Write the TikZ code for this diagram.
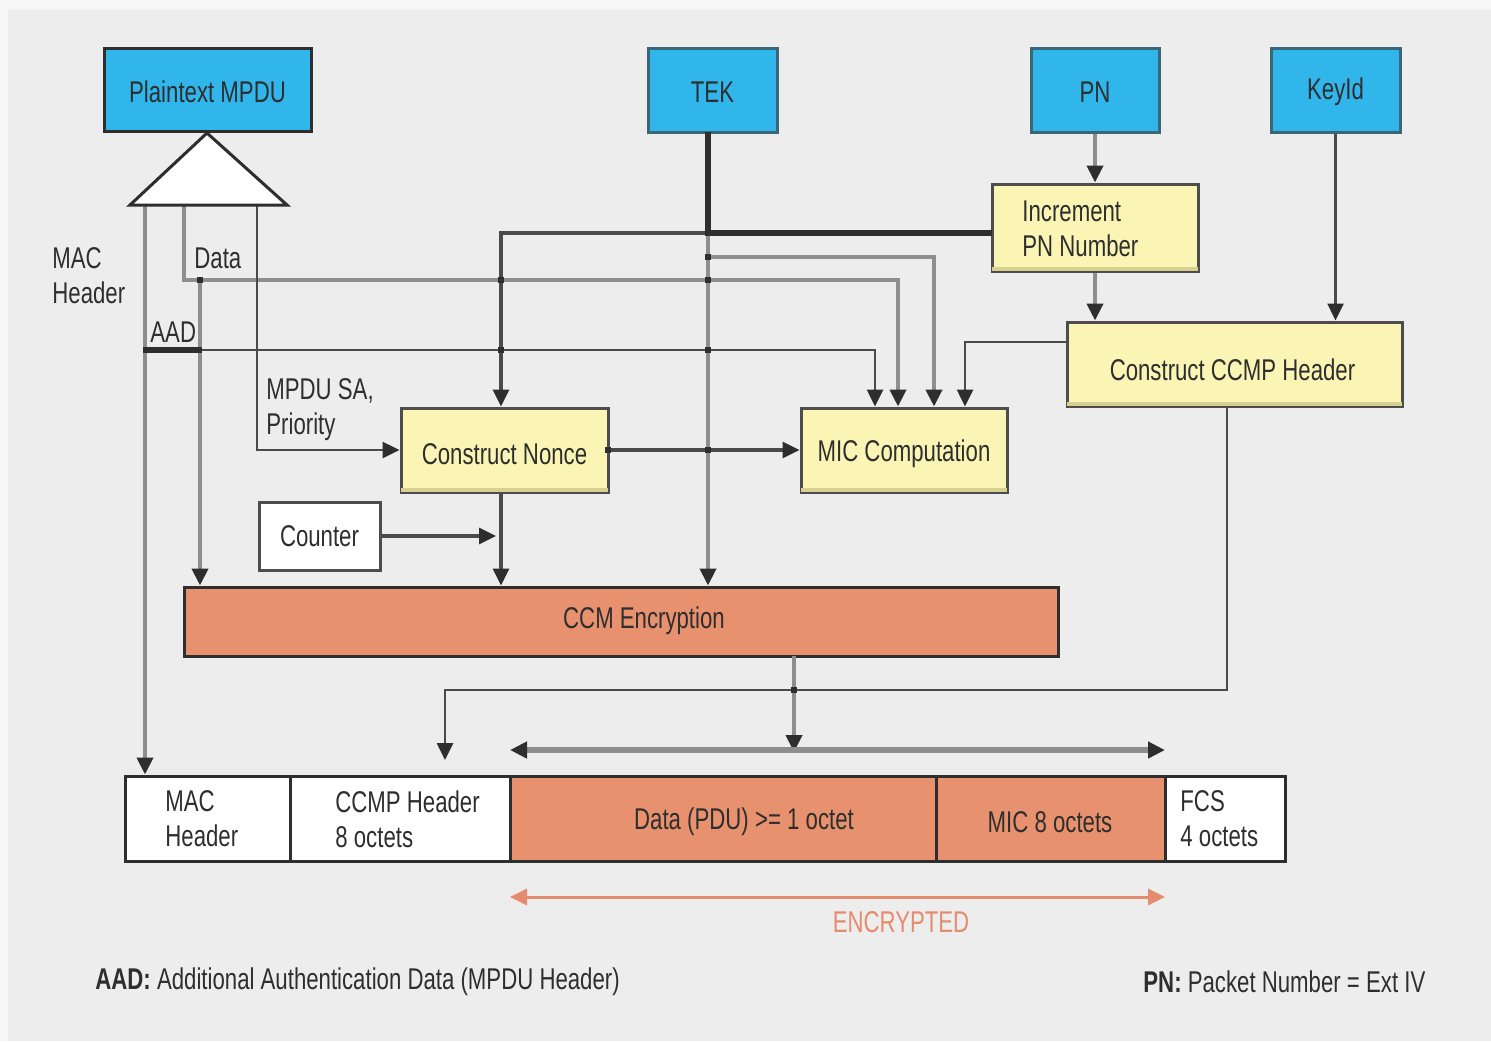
\documentclass[tikz,border=0pt]{standalone}
\usepackage{fontspec}
\setmainfont{Liberation Sans}[FakeStretch=0.74]
\usetikzlibrary{arrows.meta,fit}

\definecolor{page}{HTML}{F6F6F6}
\definecolor{panel}{HTML}{ECEDEC}
\definecolor{skyfill}{HTML}{31B6EC}
\definecolor{skyedge}{HTML}{3C6577}
\definecolor{padfill}{HTML}{FAF5B5}
\definecolor{padshade}{HTML}{D8D08E}
\definecolor{salmon}{HTML}{E8916F}
\definecolor{ink}{HTML}{2E2E2E}
\definecolor{wire}{HTML}{8E8E8E}
\definecolor{wiredark}{HTML}{4A4A4A}
\definecolor{enc}{HTML}{E58B6E}

\tikzset{
  txt/.style={font=\fontsize{15}{17.5}\selectfont, text=ink, inner sep=0pt},
  box/.style={inner sep=0pt, line width=1.5pt},
  bluebox/.style={box, fill=skyfill, draw=skyedge},
  padbox/.style={box, fill=padfill, draw=ink!85},
  whitebox/.style={box, fill=white, draw=ink},
  encbox/.style={box, fill=salmon, draw=ink},
  greywire/.style={draw=wire, line width=2pt},
  darkwire/.style={draw=wiredark, line width=1.3pt},
  keywire/.style={draw=ink, line width=2.6pt},
  toarr/.style={-{Triangle[length=8.5pt,width=8pt,color=ink]}},
  bothway/.style={{Triangle[length=8.5pt,width=8pt,color=ink]}-{Triangle[length=8.5pt,width=8pt,color=ink]}},
  encway/.style={draw=enc, line width=1.5pt,
    {Triangle[length=8.5pt,width=8pt,color=enc]}-{Triangle[length=8.5pt,width=8pt,color=enc]}},
}

\begin{document}
\begin{tikzpicture}[x=0.5pt,y=-0.5pt]
\useasboundingbox (0,0) rectangle (1491,1041);
\fill[page] (0,0) rectangle (1491,1041);
\fill[panel] (8,10) rectangle (1491,1041);

% ---- input blocks
\node[bluebox, draw=ink, fit={(104,48) (311,131)}] (pmpdu) {};
\node[bluebox, fit={(648,48) (777,132)}] (tek) {};
\node[bluebox, fit={(1031,48) (1159,132)}] (pn) {};
\node[bluebox, fit={(1271,48) (1400,132)}] (keyid) {};
\node[txt] (pmpdulbl) at ([yshift=-1pt]pmpdu.center) {Plaintext MPDU};
\node[txt] (teklbl) at ([yshift=-1pt]tek.center) {TEK};
\node[txt] (pnlbl) at ([yshift=-1pt]pn.center) {PN};
\node[txt] (keyidlbl) at ([yshift=-1pt]keyid.center) {KeyId};

% ---- processing blocks (with a shaded lower rim)
\node[padbox, fit={(992,184) (1198,271)}] (incpn) {};
\node[padbox, fit={(1067,322) (1402,406)}] (ccmph) {};
\node[padbox, fit={(801,408) (1007,492)}] (mic) {};
\node[padbox, fit={(401,408) (608,492)}] (nonce) {};
\foreach \b in {incpn,ccmph,mic,nonce}
  \fill[padshade] ([xshift=0.75pt,yshift=0.75pt]\b.south west) rectangle ([xshift=-0.75pt,yshift=3pt]\b.south east);
\node[txt, anchor=west, align=left] (incpnlbl) at (1022,229) {Increment\\PN Number};
\node[txt] (ccmphlbl) at ([xshift=-1pt,yshift=-3pt]ccmph.center) {Construct CCMP Header};
\node[txt] (miclbl) at ([yshift=-2pt]mic.center) {MIC Computation};
\node[txt] (noncelbl) at ([yshift=-2pt]nonce.center) {Construct Nonce};
\node[whitebox, draw=ink!85, fit={(259,502) (380,570)}] (counter) {};
\node[txt] (counterlbl) at (counter.center) {Counter};
\node[encbox, fit={(184,587) (1058,656)}] (ccm) {};
\node[txt] (ccmlbl) at (644,621) {CCM Encryption};

% ---- output frame
\node[whitebox, fit={(125,776) (290,861)}] (cmac) {};
\node[whitebox, fit={(290,776) (510,861)}] (cccmp) {};
\node[encbox, fit={(510,776) (936,861)}] (cdata) {};
\node[encbox, fit={(936,776) (1165,861)}] (cmic) {};
\node[whitebox, fit={(1165,776) (1285,861)}] (cfcs) {};
\node[txt, anchor=west, align=left] (cmaclbl) at (165,819) {MAC\\Header};
\node[txt, anchor=west, align=left] (cccmplbl) at (335,819) {CCMP Header\\8 octets};
\node[txt] (cdatalbl) at (744,822) {Data (PDU) >= 1 octet};
\node[txt] (cmiclbl) at (1050,822) {MIC 8 octets};
\node[txt, anchor=west, align=left] (cfcslbl) at (1180,819) {FCS\\4 octets};

% ---- splitter under the plaintext MPDU
\coordinate (tmac) at (145,205);
\coordinate (tdata) at (184,205);
\coordinate (tsa) at (257,205);
\coordinate (dataturn) at (898,280);
\coordinate (datajn) at (200,280);
\coordinate (aadjn) at (145,350);
\coordinate (aadturn) at (875,350);

\draw[greywire, toarr] (tmac) -- (tmac |- cmac.north);
\draw[greywire, toarr] (tdata) |- (dataturn) -- (dataturn |- mic.north);
\draw[greywire, toarr] (datajn) -- (datajn |- ccm.north);
\draw[darkwire, toarr] (tsa) |- (nonce.west);
\draw[darkwire, toarr] (aadjn) -- (aadturn) -- (aadturn |- mic.north);
\draw[keywire] (143,350) -- (202,350);

% ---- key and packet number wiring
\coordinate (tekout) at (708,132);
\coordinate (tekjn) at (708,233);
\coordinate (tekmic) at (708,257);
\coordinate (tekturn) at (934,257);
\coordinate (incin) at (992,233);
\coordinate (nonceturn) at (501,233);
\coordinate (ccmpout) at (1067,342);
\coordinate (ccmpturn) at (965,342);

\draw[greywire, toarr] (tekjn) -- (tekjn |- ccm.north);
\draw[greywire, toarr] (tekmic) -- (tekturn) -- (tekturn |- mic.north);
\draw[darkwire, line width=1.6pt, toarr] (tekjn) -- (nonceturn) -- (nonceturn |- nonce.north);
\draw[keywire] (tekout) -- (tekjn) -- (incin);
\draw[darkwire, toarr] (ccmpout) -- (ccmpturn) -- (ccmpturn |- mic.north);

\draw[greywire, toarr] (pn.south) -- (pn.south |- incpn.north);
\draw[greywire, toarr] (incpn.south) -- (incpn.south |- ccmph.north);
\draw[darkwire, toarr] (keyid.south) -- (keyid.south |- ccmph.north);

% ---- nonce, counter and encryption
\coordinate (noncedown) at (501,492);
\coordinate (countertip) at (496,536);
\draw[darkwire, line width=1.6pt, toarr] (nonce.east) -- (mic.west);
\draw[darkwire, line width=1.6pt, toarr] (counter.east) -- (countertip);
\draw[darkwire, line width=1.6pt, toarr] (noncedown) -- (noncedown |- ccm.north);

% ---- assembly of the output frame
\coordinate (hdrdown) at (1227,406);
\coordinate (hdrturn) at (445,690);
\coordinate (hdrtip) at (445,760);
\coordinate (ccmdown) at (794,656);
\coordinate (ccmtip) at (794,752);
\coordinate (spanl) at (510,750);
\coordinate (spanr) at (1165,750);
\coordinate (encl) at (510,897);
\coordinate (encr) at (1165,897);

\draw[darkwire, toarr] (hdrdown) |- (hdrturn) -- (hdrtip);
\draw[greywire, toarr] (ccmdown) -- (ccmtip);
\draw[greywire, line width=2.6pt, bothway] (spanl) -- (spanr);
\draw[encway] (encl) -- (encr);

% ---- crossing marks
\foreach \p in {(200,280),(501,280),(708,280),(501,350),(708,350),
                (708,257),(708,450),(608,450),(794,690)}
  \fill[ink] \p ++(-3,-3) rectangle ++(6,6);

% ---- splitter wedge
\draw[ink, line width=1.5pt, fill=white, line join=miter]
  (130,205) -- (207,133) -- (287,205) -- cycle;

% ---- labels
\node[txt, anchor=west, align=left] (lmac) at (52,276) {MAC\\Header};
\node[txt, anchor=west] (ldata) at (194,258) {Data};
\node[txt, anchor=west] (laad) at (150,332) {AAD};
\node[txt, anchor=west, align=left] (lsa) at (266,410) {MPDU SA,\\Priority};
\node[txt, text=enc] (lenc) at (901,922) {ENCRYPTED};
\node[txt, anchor=west] (noteaad) at (95,982)
  {\textbf{AAD:} Additional Authentication Data (MPDU Header)};
\node[txt, anchor=west] (notepn) at (1143,982)
  {\textbf{PN:} Packet Number = Ext IV};
\end{tikzpicture}
\end{document}
